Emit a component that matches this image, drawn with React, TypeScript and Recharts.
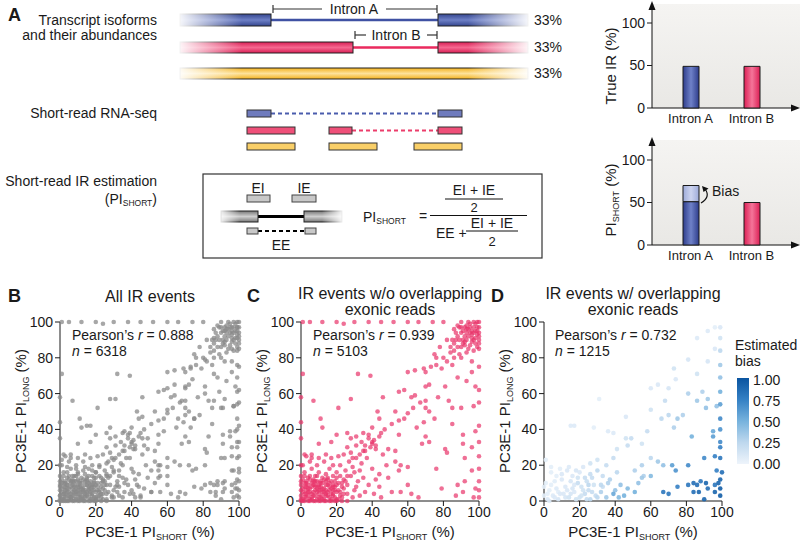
import React from "react";
import { Bar, BarChart, Cell, Scatter, ScatterChart, XAxis, YAxis } from "recharts";

const FONT = '"Liberation Sans", Arial, Helvetica, sans-serif';

// Panel A bar charts
const introns = ["Intron A", "Intron B"];
const trueIR = [49, 49];
const piShortBase = [51, 50];
const piShortBias = [19, 0];
const barTicks = [0, 50, 100];

// Panels B-D
const scatterTicks = [0, 20, 40, 60, 80, 100];
const biasTicks = ["1.00", "0.75", "0.50", "0.25", "0.00"];

// IR events without overlapping exonic reads [PI_SHORT, PI_LONG]
const noOverlap: [number, number][] = [
  [1, 1], [3, 2], [5, 1], [7, 3], [9, 1], [11, 2], [13, 1], [15, 3], [17, 1], [19, 2],
  [2, 4], [4, 5], [6, 4], [8, 6], [10, 4], [12, 5], [14, 4], [16, 6], [18, 4], [20, 5],
  [1, 7], [3, 8], [5, 7], [7, 9], [9, 7], [11, 8], [13, 7], [15, 9], [17, 7], [19, 8],
  [2, 10], [4, 9], [6, 10], [8, 11], [10, 9], [12, 10], [14, 11], [16, 10], [18, 9], [0, 3],
  [0, 6], [0, 9], [1, 0], [4, 0], [7, 0], [10, 0], [13, 0], [16, 0], [19, 0], [21, 1],
  [22, 3], [21, 6], [23, 8], [6, 2], [12, 3], [18, 6], [8, 8], [14, 6], [3, 6], [10, 6],
  [2, 2], [4, 3], [6, 1], [8, 3], [10, 2], [12, 1], [14, 3], [16, 2], [18, 3], [20, 1],
  [1, 5], [3, 4], [5, 5], [7, 5], [9, 5], [11, 6], [13, 5], [15, 5], [17, 4], [19, 6],
  [2, 8], [4, 7], [6, 8], [8, 9], [10, 8], [12, 7], [14, 9], [16, 8], [18, 8], [20, 9],
  [1, 12], [3, 10], [5, 12], [7, 11], [9, 11], [11, 10], [13, 12], [15, 13], [17, 11], [21, 10],
  [22, 5], [23, 2], [24, 4], [25, 11], [20, 13], [9, 14], [5, 14], [2, 14], [0, 11], [0, 1],
  [0, 0], [2, 0], [5, 0], [8, 0], [11, 0], [14, 0], [17, 0], [20, 0], [23, 0], [26, 0],
  [24, 12], [26, 9], [28, 14], [30, 6], [32, 11], [25, 17], [22, 20], [27, 22], [20, 16], [18, 14],
  [16, 18], [14, 15], [12, 13], [10, 16], [8, 14], [6, 18], [4, 13], [2, 16], [1, 20], [5, 22],
  [9, 20], [13, 22], [17, 24], [21, 25], [24, 26], [29, 19], [33, 17], [35, 13], [38, 9], [36, 5],
  [33, 3], [29, 2], [26, 4], [24, 7], [23, 10], [31, 8], [34, 21], [37, 24], [40, 18], [42, 12],
  [44, 8], [41, 4], [45, 2], [15, 12], [11, 11], [7, 12], [3, 11], [19, 11], [26, 14], [30, 16],
  [22, 14], [18, 20], [14, 26], [10, 24], [6, 26], [3, 25], [28, 27], [31, 24], [35, 28], [39, 30],
  [86, 88], [88, 92], [90, 86], [91, 95], [92, 89], [93, 98], [94, 92], [95, 87], [96, 95], [97, 90],
  [98, 99], [99, 93], [100, 97], [100, 90], [99, 86], [97, 84], [95, 99], [93, 94], [91, 90], [89, 97],
  [87, 94], [85, 90], [88, 86], [96, 91], [98, 95], [100, 100], [94, 100], [90, 100], [99, 100], [97, 97],
  [92, 92], [95, 94], [100, 85], [89, 82], [93, 83], [84, 86], [86, 80],
  [90, 94], [92, 97], [94, 96], [96, 93], [98, 91], [100, 94], [99, 97], [97, 100], [95, 97], [93, 90],
  [91, 88], [89, 90], [87, 90], [97, 94], [98, 88], [100, 88], [96, 89], [94, 85], [92, 87], [88, 98],
  [86, 96], [90, 97], [93, 96], [99, 95], [100, 92],
  [1, 100], [5, 100], [12, 100], [20, 100], [24, 99], [30, 100], [38, 100], [45, 100], [52, 100], [60, 100],
  [66, 100], [74, 100], [80, 100],
  [100, 2], [100, 6], [100, 11], [100, 18], [100, 25], [100, 33], [100, 42], [100, 55], [100, 62], [100, 75],
  [0, 14], [0, 20], [0, 35], [0, 44], [0, 58],
  [60, 72], [64, 73], [69, 74], [70, 72], [70, 64], [72, 65], [76, 80], [79, 74], [82, 78], [85, 76],
  [88, 69], [93, 67], [96, 72], [98, 64], [75, 82], [73, 75], [86, 84], [90, 80], [96, 78],
  [55, 61], [58, 62], [62, 58], [64, 59], [67, 55], [70, 52], [70, 56], [72, 50], [63, 52], [60, 49],
  [58, 46], [55, 45], [51, 43], [43, 50], [44, 46], [40, 41], [41, 34], [38, 37], [35, 38], [34, 33],
  [31, 31], [36, 31], [40, 32], [42, 29], [46, 26], [49, 29], [53, 28], [53, 22], [56, 20], [60, 19],
  [48, 20], [55, 17], [44, 15], [49, 13], [60, 9], [62, 4], [66, 2], [51, 5], [56, 5], [79, 7],
  [88, 9], [92, 11], [96, 17], [87, 3], [91, 5], [97, 2], [98, 7], [76, 18], [68, 32], [72, 33],
  [81, 29], [82, 27], [91, 32], [96, 30], [92, 24], [85, 52], [85, 43], [90, 52], [91, 37], [97, 53],
  [98, 39], [75, 46], [77, 58], [81, 64], [83, 56], [65, 41], [69, 44], [70, 36], [55, 37], [53, 50],
  [46, 58], [7, 56], [11, 46], [21, 52], [20, 37], [17, 33], [12, 41], [10, 32], [6, 24], [2, 26],
  [26, 38], [28, 35], [31, 36], [26, 30], [32, 71], [39, 70], [28, 57], [1, 71],
  [38, 35], [40, 33], [42, 31], [44, 36], [36, 28], [33, 26], [29, 24], [45, 38], [47, 40],
  [78, 86], [82, 90], [84, 83], [80, 80], [76, 76],
];

// IR events with overlapping exonic reads [PI_SHORT, PI_LONG, estimated bias]
const withOverlap: [number, number, number][] = [
  [67, 5, 0.8], [70, 4, 0.8], [75, 8, 0.75], [81, 9, 0.8], [84, 10, 0.85], [86, 9, 0.85], [88, 11, 0.8],
  [91, 10, 0.9], [92, 7, 0.85], [87, 5, 0.9], [84, 5, 0.85], [96, 5, 0.9], [90, 1, 0.9], [96, 9, 0.8],
  [81, 20, 0.7], [72, 20, 0.6], [74, 17, 0.65], [96, 25, 0.75], [90, 24, 0.7], [97, 17, 0.75],
  [99, 12, 0.9], [99, 7, 0.95], [99, 3, 0.95], [98, 10, 0.9], [100, 16, 0.85],
  [99, 46, 0.7], [99, 40, 0.65], [99, 33, 0.7], [99, 30, 0.75], [99, 24, 0.8], [99, 54, 0.6],
  [99, 61, 0.5], [99, 69, 0.4], [99, 76, 0.35], [99, 84, 0.25], [99, 91, 0.15], [99, 97, 0.1],
  [83, 36, 0.5], [95, 39, 0.55], [95, 36, 0.6], [86, 56, 0.35], [91, 52, 0.4], [97, 53, 0.4],
  [81, 60, 0.3], [89, 61, 0.3], [92, 57, 0.35], [75, 46, 0.35], [78, 48, 0.3], [70, 48, 0.25],
  [68, 56, 0.2], [73, 41, 0.3], [66, 46, 0.25], [60, 51, 0.15], [58, 39, 0.2], [60, 14, 0.45],
  [67, 20, 0.4], [56, 14, 0.3], [55, 13, 0.35], [51, 5, 0.5], [47, 7, 0.45], [43, 9, 0.4],
  [39, 4, 0.55], [45, 3, 0.5], [53, 10, 0.4], [55, 20, 0.3], [51, 17, 0.3], [64, 22, 0.35],
  [60, 24, 0.25], [46, 35, 0.15], [47, 31, 0.2], [49, 35, 0.2], [41, 29, 0.15], [39, 24, 0.2],
  [35, 20, 0.2], [30, 17, 0.25], [26, 15, 0.2], [23, 13, 0.2], [36, 10, 0.3], [32, 9, 0.25],
  [19, 10, 0.2], [25, 9, 0.25], [41, 16, 0.25],
  [73, 74, 0.15], [74, 68, 0.1], [81, 79, 0.12], [86, 71, 0.15], [92, 78, 0.12], [96, 85, 0.1],
  [92, 95, 0.08], [96, 97, 0.05], [86, 91, 0.08], [64, 65, 0.1], [60, 63, 0.1], [70, 63, 0.12],
  [31, 57, 0.05], [17, 42, 0.08], [15, 42, 0.08], [36, 39, 0.08], [39, 38, 0.08], [28, 41, 0.05],
  [46, 47, 0.1], [55, 32, 0.15], [4, 19, 0.05], [1, 23, 0.05], [10, 15, 0.1], [13, 17, 0.1],
  [2, 1, 0.1], [5, 3, 0.08], [8, 1, 0.12], [11, 4, 0.1], [14, 2, 0.15], [17, 5, 0.1], [20, 2, 0.15],
  [23, 4, 0.2], [26, 1, 0.25], [29, 3, 0.2], [3, 6, 0.05], [7, 7, 0.08], [12, 8, 0.1], [16, 7, 0.12],
  [21, 8, 0.15], [25, 6, 0.2], [28, 9, 0.15], [32, 5, 0.3], [35, 2, 0.35], [1, 10, 0.05], [6, 11, 0.06],
  [10, 12, 0.1], [15, 11, 0.12], [19, 13, 0.15], [24, 11, 0.18], [27, 13, 0.2], [33, 14, 0.2],
  [37, 12, 0.3], [40, 6, 0.4], [42, 2, 0.45], [4, 16, 0.05], [9, 18, 0.05], [14, 19, 0.08],
  [18, 17, 0.12], [22, 19, 0.1], [26, 21, 0.15], [30, 23, 0.15], [0, 8, 0.05], [0, 3, 0.05],
  [3, 0, 0.08], [6, 2, 0.1], [9, 4, 0.1], [12, 2, 0.12], [15, 4, 0.12], [18, 1, 0.15], [21, 3, 0.15],
  [24, 1, 0.2], [27, 5, 0.2], [30, 2, 0.25], [4, 9, 0.05], [8, 5, 0.06], [13, 6, 0.1], [17, 9, 0.1],
  [22, 6, 0.15], [2, 4, 0.05], [33, 8, 0.2], [16, 14, 0.1], [20, 16, 0.1], [7, 14, 0.05],
];

const noOverlapData = noOverlap.map(([x, y]) => ({ x, y }));
const withOverlapData = withOverlap
  .map(([x, y, b]) => ({ x, y, b }))
  .sort((a, b) => a.b - b.b);
const allData = [...noOverlapData, ...withOverlap.map(([x, y]) => ({ x, y }))];

const trueData = introns.map((name, i) => ({ name, v: trueIR[i] }));
const shortData = introns.map((name, i) => ({ name, base: piShortBase[i], bias: piShortBias[i] }));

const blueStops: [number, number[]][] = [
  [0, [236, 243, 251]],
  [0.25, [190, 216, 238]],
  [0.5, [118, 178, 221]],
  [0.75, [52, 128, 196]],
  [1, [10, 84, 160]],
];

function biasColor(b: number) {
  for (let i = 1; i < blueStops.length; i++) {
    const [t1, c1] = blueStops[i];
    const [t0, c0] = blueStops[i - 1];
    if (b <= t1) {
      const f = (b - t0) / (t1 - t0);
      const c = c0.map((v, k) => Math.round(v + (c1[k] - v) * f));
      return `rgb(${c[0]},${c[1]},${c[2]})`;
    }
  }
  return "rgb(10,84,160)";
}

const tickStyle = { fontSize: 14, fill: "#1a1a1a", fontFamily: FONT };
const axisStroke = { stroke: "#1a1a1a", strokeWidth: 1 };

function ScatterPanel({ left, data, shape, marginRight }: any) {
  return (
    <div style={{ position: "absolute", left, top: 290 }}>
      <ScatterChart width={250} height={253} margin={{ top: 32, right: marginRight, left: 30, bottom: 2 }}>
        <XAxis
          type="number"
          dataKey="x"
          domain={[0, 100]}
          ticks={scatterTicks}
          tick={tickStyle}
          tickSize={5}
          tickMargin={1}
          height={40}
          axisLine={axisStroke}
          tickLine={axisStroke}
        />
        <YAxis
          type="number"
          dataKey="y"
          domain={[0, 100]}
          ticks={scatterTicks}
          tick={tickStyle}
          tickSize={5}
          tickMargin={2}
          width={30}
          axisLine={axisStroke}
          tickLine={axisStroke}
        />
        <Scatter data={data} shape={shape} isAnimationActive={false} />
      </ScatterChart>
    </div>
  );
}

const grayDot = (p: any) => <circle cx={p.cx} cy={p.cy} r={2.3} fill="#8a8a8a" fillOpacity={0.75} />;
const pinkDot = (p: any) => <circle cx={p.cx} cy={p.cy} r={2.3} fill="#e8336a" fillOpacity={0.7} />;
const blueDot = (p: any) => (
  <circle cx={p.cx} cy={p.cy} r={2.3} fill={biasColor(p.payload.b)} fillOpacity={0.9} />
);

function Arrows({ y0, yTop }: { y0: number; yTop: number }) {
  return (
    <g fill="#111">
      <polygon points={`652,${yTop} 648.5,${yTop + 9} 655.5,${yTop + 9}`} />
      <line x1={652} y1={yTop + 6} x2={652} y2={y0} stroke="#111" strokeWidth={1} />
      <line x1={652} y1={y0} x2={793} y2={y0} stroke="#111" strokeWidth={1} />
      <polygon points={`800,${y0} 791,${y0 - 3.5} 791,${y0 + 3.5}`} />
    </g>
  );
}

function Tube({ x, y, w, h, grad }: any) {
  return <rect x={x} y={y} width={w} height={h} fill={`url(#${grad})`} stroke="#222" strokeWidth={1} />;
}

function Overlay() {
  const t = { fontFamily: FONT, fill: "#1a1a1a" } as any;
  return (
    <svg width={800} height={543} style={{ position: "absolute", left: 0, top: 0 }}>
      <defs>
        <linearGradient id="tubeBlue" x1="0" y1="0" x2="0" y2="1">
          <stop offset="0" stopColor="#34468f" />
          <stop offset="0.5" stopColor="#6e80c6" />
          <stop offset="1" stopColor="#34468f" />
        </linearGradient>
        <linearGradient id="tubePink" x1="0" y1="0" x2="0" y2="1">
          <stop offset="0" stopColor="#d91f55" />
          <stop offset="0.5" stopColor="#f5678f" />
          <stop offset="1" stopColor="#d91f55" />
        </linearGradient>
        <linearGradient id="tubeYellow" x1="0" y1="0" x2="0" y2="1">
          <stop offset="0" stopColor="#f3b21e" />
          <stop offset="0.5" stopColor="#fde29a" />
          <stop offset="1" stopColor="#f3b21e" />
        </linearGradient>
        <linearGradient id="tubeGray" x1="0" y1="0" x2="0" y2="1">
          <stop offset="0" stopColor="#777" />
          <stop offset="0.5" stopColor="#cfcfcf" />
          <stop offset="1" stopColor="#777" />
        </linearGradient>
        <linearGradient id="fadeL" x1="0" y1="0" x2="1" y2="0">
          <stop offset="0" stopColor="#fff" stopOpacity={1} />
          <stop offset="1" stopColor="#fff" stopOpacity={0} />
        </linearGradient>
        <linearGradient id="fadeR" x1="0" y1="0" x2="1" y2="0">
          <stop offset="0" stopColor="#fff" stopOpacity={0} />
          <stop offset="1" stopColor="#fff" stopOpacity={1} />
        </linearGradient>
        <linearGradient id="panelBg" x1="0" y1="0" x2="0" y2="1">
          <stop offset="0" stopColor="#f5f4f2" />
          <stop offset="1" stopColor="#e9e8e5" />
        </linearGradient>
        <linearGradient id="barBlue" x1="0" y1="0" x2="1" y2="0">
          <stop offset="0" stopColor="#2e3d8c" />
          <stop offset="0.5" stopColor="#6f81c8" />
          <stop offset="1" stopColor="#2e3d8c" />
        </linearGradient>
        <linearGradient id="barPink" x1="0" y1="0" x2="1" y2="0">
          <stop offset="0" stopColor="#dc1f55" />
          <stop offset="0.5" stopColor="#f47599" />
          <stop offset="1" stopColor="#dc1f55" />
        </linearGradient>
        <linearGradient id="barBias" x1="0" y1="0" x2="1" y2="0">
          <stop offset="0" stopColor="#9eabd9" />
          <stop offset="0.5" stopColor="#cdd4ef" />
          <stop offset="1" stopColor="#9eabd9" />
        </linearGradient>
        <linearGradient id="biasScale" x1="0" y1="1" x2="0" y2="0">
          <stop offset="0" stopColor="#eef4fb" />
          <stop offset="0.25" stopColor="#bed8ee" />
          <stop offset="0.5" stopColor="#76b2dd" />
          <stop offset="0.75" stopColor="#3480c4" />
          <stop offset="1" stopColor="#0a54a0" />
        </linearGradient>
      </defs>

      {/* bar chart backgrounds and axes */}
      <rect x={652} y={4} width={148} height={104} fill="url(#panelBg)" />
      <rect x={652} y={140} width={148} height={105} fill="url(#panelBg)" />
      <Arrows y0={108} yTop={1} />
      <Arrows y0={245} yTop={137} />
      <text {...t} fontSize={15} textAnchor="middle" transform="translate(616,66) rotate(-90)">True IR (%)</text>
      <text {...t} fontSize={15} textAnchor="middle" transform="translate(616,200) rotate(-90)">
        PI<tspan fontSize={9} dy={3}>SHORT</tspan><tspan dy={-3}> (%)</tspan>
      </text>
      <path d="M701,203 Q711,197 705,189" fill="none" stroke="#111" strokeWidth={1.2} />
      <polygon points="702,186 708.5,188.5 703.5,192" fill="#111" />
      <text {...t} fontSize={14} x={712} y={196}>Bias</text>

      {/* panel A schematic */}
      <text {...t} fontSize={18} fontWeight="bold" x={8} y={21}>A</text>
      <text {...t} fontSize={14} textAnchor="end" x={157} y={25}>Transcript isoforms</text>
      <text {...t} fontSize={14} textAnchor="end" x={157} y={40}>and their abundances</text>
      <text {...t} fontSize={14} textAnchor="end" x={157} y={118}>Short-read RNA-seq</text>
      <text {...t} fontSize={14} textAnchor="end" x={157} y={186}>Short-read IR estimation</text>
      <text {...t} fontSize={14} textAnchor="end" x={157} y={204}>
        (PI<tspan fontSize={8.5} dy={2}>SHORT</tspan><tspan dy={-2}>)</tspan>
      </text>

      <line x1={271} y1={20} x2={438} y2={20} stroke="#3f51a3" strokeWidth={2.5} />
      <Tube x={180} y={14} w={91} h={12} grad="tubeBlue" />
      <Tube x={438} y={14} w={90} h={12} grad="tubeBlue" />
      <line x1={353} y1={47.5} x2={438} y2={47.5} stroke="#ea2a5e" strokeWidth={2.5} />
      <Tube x={180} y={42} w={173} h={11} grad="tubePink" />
      <Tube x={438} y={42} w={90} h={11} grad="tubePink" />
      <Tube x={180} y={68} w={348} h={11} grad="tubeYellow" />
      <rect x={176} y={10} width={66} height={74} fill="url(#fadeL)" />
      <rect x={468} y={10} width={64} height={74} fill="url(#fadeR)" />

      <g stroke="#333" strokeWidth={1.2}>
        <line x1={273} y1={9} x2={322} y2={9} />
        <line x1={386} y1={9} x2={437} y2={9} />
        <line x1={273} y1={5} x2={273} y2={13} />
        <line x1={437} y1={5} x2={437} y2={13} />
        <line x1={355} y1={35} x2={366} y2={35} />
        <line x1={427} y1={35} x2={437} y2={35} />
        <line x1={355} y1={31} x2={355} y2={39} />
        <line x1={437} y1={31} x2={437} y2={39} />
      </g>
      <text {...t} fontSize={14} textAnchor="middle" x={354} y={14}>Intron A</text>
      <text {...t} fontSize={14} textAnchor="middle" x={396} y={40}>Intron B</text>
      <text {...t} fontSize={14} x={534} y={25}>33%</text>
      <text {...t} fontSize={14} x={534} y={52}>33%</text>
      <text {...t} fontSize={14} x={534} y={78}>33%</text>

      <g stroke="#333" strokeWidth={1}>
        <line x1={271} y1={113.5} x2={438} y2={113.5} stroke="#4a5cad" strokeWidth={2} strokeDasharray="4 3" />
        <rect x={247} y={110} width={24} height={7} fill="#6f7bbd" />
        <rect x={438} y={110} width={24} height={7} fill="#6f7bbd" />
        <line x1={352} y1={130.5} x2={438} y2={130.5} stroke="#ec3d6b" strokeWidth={2} strokeDasharray="4 3" />
        <rect x={247} y={127} width={48} height={7} fill="#ef5079" />
        <rect x={329} y={127} width={23} height={7} fill="#ef5079" />
        <rect x={438} y={127} width={24} height={7} fill="#ef5079" />
        <rect x={247} y={143} width={48} height={7} fill="#f9cf68" />
        <rect x={329} y={143} width={48} height={7} fill="#f9cf68" />
        <rect x={414} y={143} width={48} height={7} fill="#f9cf68" />
      </g>

      <rect x={203} y={174} width={339} height={84} fill="none" stroke="#333" strokeWidth={1.2} />
      <text {...t} fontSize={14} textAnchor="middle" x={258} y={193}>EI</text>
      <text {...t} fontSize={14} textAnchor="middle" x={304} y={193}>IE</text>
      <g stroke="#444" strokeWidth={1} fill="#c8c8c8">
        <rect x={247} y={195} width={23} height={7} />
        <rect x={292} y={195} width={24} height={7} />
      </g>
      <line x1={258} y1={216.5} x2={304} y2={216.5} stroke="#000" strokeWidth={3} />
      <Tube x={221} y={211} w={37} h={11} grad="tubeGray" />
      <Tube x={304} y={211} w={38} h={11} grad="tubeGray" />
      <rect x={218} y={208} width={22} height={17} fill="url(#fadeL)" />
      <rect x={322} y={208} width={22} height={17} fill="url(#fadeR)" />
      <line x1={258} y1={231} x2={305} y2={231} stroke="#000" strokeWidth={2} strokeDasharray="4 3" />
      <g stroke="#444" strokeWidth={1} fill="#c8c8c8">
        <rect x={247} y={228} width={11} height={6} />
        <rect x={305} y={228} width={11} height={6} />
      </g>
      <text {...t} fontSize={14} textAnchor="middle" x={281} y={250}>EE</text>

      <text {...t} fontSize={14} x={363} y={222}>
        PI<tspan fontSize={8.5} dy={2}>SHORT</tspan>
      </text>
      <text {...t} fontSize={14} x={419} y={221}>=</text>
      <line x1={430} y1={215.5} x2={527} y2={215.5} stroke="#111" strokeWidth={1.2} />
      <text {...t} fontSize={14} textAnchor="middle" x={474} y={195}>EI + IE</text>
      <line x1={445} y1={199} x2={503} y2={199} stroke="#111" strokeWidth={1} />
      <text {...t} fontSize={13} textAnchor="middle" x={474} y={212}>2</text>
      <text {...t} fontSize={14} x={436} y={238}>EE +</text>
      <text {...t} fontSize={14} textAnchor="middle" x={492} y={228}>EI + IE</text>
      <line x1={466} y1={231} x2={518} y2={231} stroke="#111" strokeWidth={1} />
      <text {...t} fontSize={13} textAnchor="middle" x={492} y={246}>2</text>

      {/* scatter panels titles and labels */}
      <text {...t} fontSize={18} fontWeight="bold" x={8} y={302}>B</text>
      <text {...t} fontSize={18} fontWeight="bold" x={247} y={302}>C</text>
      <text {...t} fontSize={18} fontWeight="bold" x={491} y={302}>D</text>
      <text {...t} fontSize={16} textAnchor="middle" x={150} y={302}>All IR events</text>
      <text {...t} fontSize={16} textAnchor="middle" x={390} y={299}>IR events w/o overlapping</text>
      <text {...t} fontSize={16} textAnchor="middle" x={390} y={315}>exonic reads</text>
      <text {...t} fontSize={16} textAnchor="middle" x={633} y={299}>IR events w/ overlapping</text>
      <text {...t} fontSize={16} textAnchor="middle" x={633} y={315}>exonic reads</text>

      {[
        [72, "0.888", "6318"],
        [313, "0.939", "5103"],
        [555, "0.732", "1215"],
      ].map(([x, r, n]) => (
        <g key={String(x)}>
          <text {...t} fontSize={14} x={Number(x)} y={340}>
            Pearson’s <tspan fontStyle="italic">r</tspan> = {r}
          </text>
          <text {...t} fontSize={14} x={Number(x)} y={356}>
            <tspan fontStyle="italic">n</tspan> = {n}
          </text>
        </g>
      ))}

      {[150, 390, 633].map((cx) => (
        <text key={cx} {...t} fontSize={15} textAnchor="middle" x={cx} y={537}>
          PC3E-1 PI<tspan fontSize={9} dy={3}>SHORT</tspan><tspan dy={-3}> (%)</tspan>
        </text>
      ))}
      {[26, 267, 510].map((cx) => (
        <text key={cx} {...t} fontSize={15} textAnchor="middle" transform={`translate(${cx},411) rotate(-90)`}>
          PC3E-1 PI<tspan fontSize={9} dy={3}>LONG</tspan><tspan dy={-3}> (%)</tspan>
        </text>
      ))}

      <text {...t} fontSize={14} x={735} y={350}>Estimated</text>
      <text {...t} fontSize={14} x={735} y={366}>bias</text>
      <rect x={737} y={378} width={12} height={86} fill="url(#biasScale)" />
      {biasTicks.map((lab, i) => (
        <text key={lab} {...t} fontSize={14} x={753} y={385 + i * 21}>{lab}</text>
      ))}
    </svg>
  );
}

export default function App() {
  return (
    <div style={{ position: "absolute", left: 0, top: 0, width: 800, height: 543, background: "#fff", fontFamily: FONT }}>
      <Overlay />
      <div style={{ position: "absolute", left: 600, top: 0 }}>
        <BarChart width={200} height={130} data={trueData} margin={{ top: 6, right: 3, left: 12, bottom: 2 }}>
          <XAxis dataKey="name" tick={{ ...tickStyle, fontSize: 13 }} tickLine={false} axisLine={false} tickSize={0} tickMargin={6} height={20} padding={{ left: 8, right: 15 }} />
          <YAxis domain={[0, 120]} ticks={barTicks} tick={tickStyle} tickSize={5} tickMargin={2} width={40} axisLine={false} tickLine={axisStroke} />
          <Bar dataKey="v" barSize={16} stroke="#1a1a1a" strokeWidth={1} isAnimationActive={false}>
            {trueData.map((d, i) => (
              <Cell key={d.name} fill={i === 0 ? "url(#barBlue)" : "url(#barPink)"} />
            ))}
          </Bar>
        </BarChart>
      </div>
      <div style={{ position: "absolute", left: 600, top: 137 }}>
        <BarChart width={200} height={130} data={shortData} margin={{ top: 6, right: 3, left: 12, bottom: 2 }}>
          <XAxis dataKey="name" tick={{ ...tickStyle, fontSize: 13 }} tickLine={false} axisLine={false} tickSize={0} tickMargin={6} height={20} padding={{ left: 8, right: 15 }} />
          <YAxis domain={[0, 120]} ticks={barTicks} tick={tickStyle} tickSize={5} tickMargin={2} width={40} axisLine={false} tickLine={axisStroke} />
          <Bar dataKey="base" stackId="a" barSize={16} stroke="#1a1a1a" strokeWidth={1} isAnimationActive={false}>
            {shortData.map((d, i) => (
              <Cell key={d.name} fill={i === 0 ? "url(#barBlue)" : "url(#barPink)"} />
            ))}
          </Bar>
          <Bar dataKey="bias" stackId="a" barSize={16} stroke="#1a1a1a" strokeWidth={1} fill="url(#barBias)" isAnimationActive={false} />
        </BarChart>
      </div>
      <ScatterPanel left={0} data={allData} shape={grayDot} marginRight={11} />
      <ScatterPanel left={241} data={noOverlapData} shape={pinkDot} marginRight={12} />
      <ScatterPanel left={484} data={withOverlapData} shape={blueDot} marginRight={12} />
    </div>
  );
}
